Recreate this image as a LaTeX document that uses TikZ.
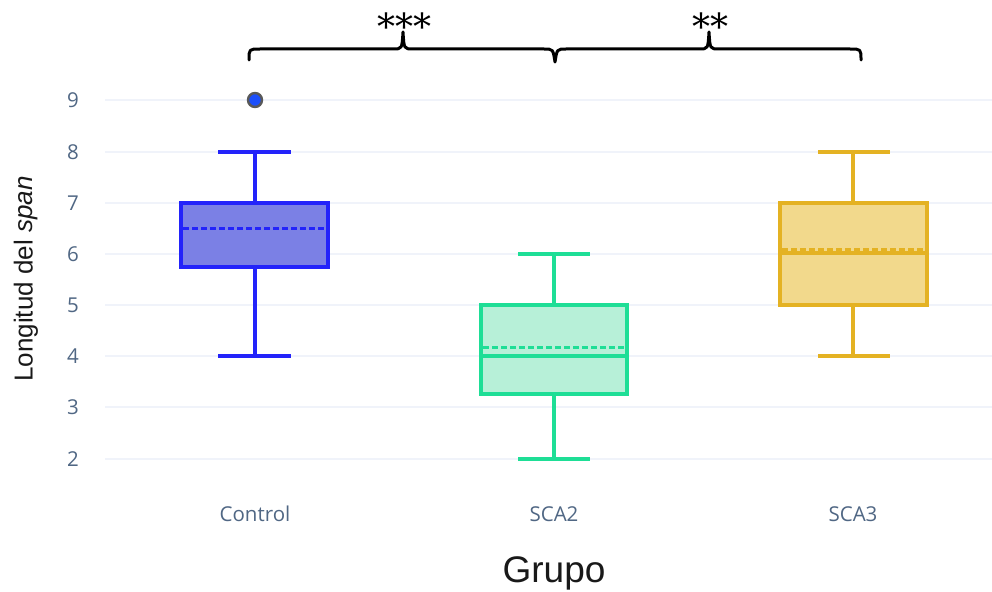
\documentclass[tikz,border=0pt]{standalone}
\usepackage{fontspec}
\setmainfont{Liberation Sans}
\newfontfamily\tickfont{Open Sans}
\newfontfamily\starfont{DejaVu Serif}
\begin{document}
\begin{tikzpicture}[x=1pt,y=-1pt,
  grid/.style={draw=gridc,line width=1.5pt},
  whisk/.style={line width=3.1pt},
  boxst/.style={line width=3.1pt},
  meanline/.style={line width=3pt,dash pattern=on 5.5pt off 3.5pt},
  brace/.style={line width=3pt,line join=round,line cap=round},
  ticklab/.style={font=\tickfont\fontsize{20.5}{20.5}\selectfont,text=tickc,inner sep=0pt},
  stars/.style={font=\starfont\fontsize{36}{36}\selectfont,inner sep=0pt}]
\definecolor{gridc}{RGB}{240,243,250}
\definecolor{tickc}{RGB}{80,103,132}
\definecolor{cl}{RGB}{35,35,250}
\definecolor{cf}{RGB}{123,128,229}
\definecolor{gl}{RGB}{30,222,150}
\definecolor{gf}{RGB}{183,240,216}
\definecolor{yl}{RGB}{228,178,35}
\definecolor{yf}{RGB}{242,217,140}
\useasboundingbox[fill=white] (0,0) rectangle (992,591);
% grid and y ticks
\foreach \v/\yy in {9/100,8/152,7/203,6/254,5/305,4/356,3/407,2/459}{
  \draw[grid] (105,\yy) -- (992,\yy);
  \node[ticklab] (t\v) at (73,\yy) {\v};
}
% Control
\draw[whisk,cl] (255,152) -- (255,203) (255,267) -- (255,356);
\draw[whisk,cl] (218,152) -- (291,152) (218,356) -- (291,356);
\draw[boxst,draw=cl,fill=cf] (181,203) rectangle (328,267);
\draw[meanline,cl] (183,228) -- (326,228);
\draw[line width=2.4pt,draw=black!65,fill=cl!80!cyan] (255,100) circle (7);
% SCA2
\draw[whisk,gl] (554,254) -- (554,305) (554,394) -- (554,459);
\draw[whisk,gl] (518,254) -- (590,254) (518,459) -- (590,459);
\draw[boxst,draw=gl,fill=gf] (481,305) rectangle (627,394);
\draw[whisk,gl] (481,356) -- (627,356);
\draw[meanline,gl] (483,347) -- (625,347);
% SCA3
\draw[whisk,yl] (853,152) -- (853,203) (853,305) -- (853,356);
\draw[whisk,yl] (818,152) -- (890,152) (818,356) -- (890,356);
\draw[boxst,draw=yl,fill=yf] (780,203) rectangle (927,305);
\draw[whisk,yl] (780,253) -- (927,253);
\draw[meanline,yl] (782,249) -- (925,249);
% x tick labels
\node[ticklab] (xc) at (255,514) {Control};
\node[ticklab] (x2) at (554,514) {SCA2};
\node[ticklab] (x3) at (853,514) {SCA3};
% axis titles
\node[font=\fontsize{37}{37}\selectfont,text=black!90,inner sep=0pt] (xt) at (554,573) {Grupo};
\node[font=\fontsize{26}{26}\selectfont,text=black!90,rotate=90,inner sep=0pt] (yt) at (26,279) {Longitud del \textit{span}};
% braces
\draw[brace] (249,60) .. controls (249,49) .. (260,49) -- (393,49)
  .. controls (402,49) .. (403,32) .. controls (404,49) .. (413,49) -- (544,49)
  .. controls (553,49) .. (555,62) .. controls (557,49) .. (566,49) -- (699,49)
  .. controls (708,49) .. (709,32) .. controls (710,49) .. (719,49) -- (850,49)
  .. controls (861,49) .. (861,60);
\node[stars] (s3) at (404,26) {***};
\node[stars] (s2) at (710,26) {**};
\end{tikzpicture}
\end{document}
